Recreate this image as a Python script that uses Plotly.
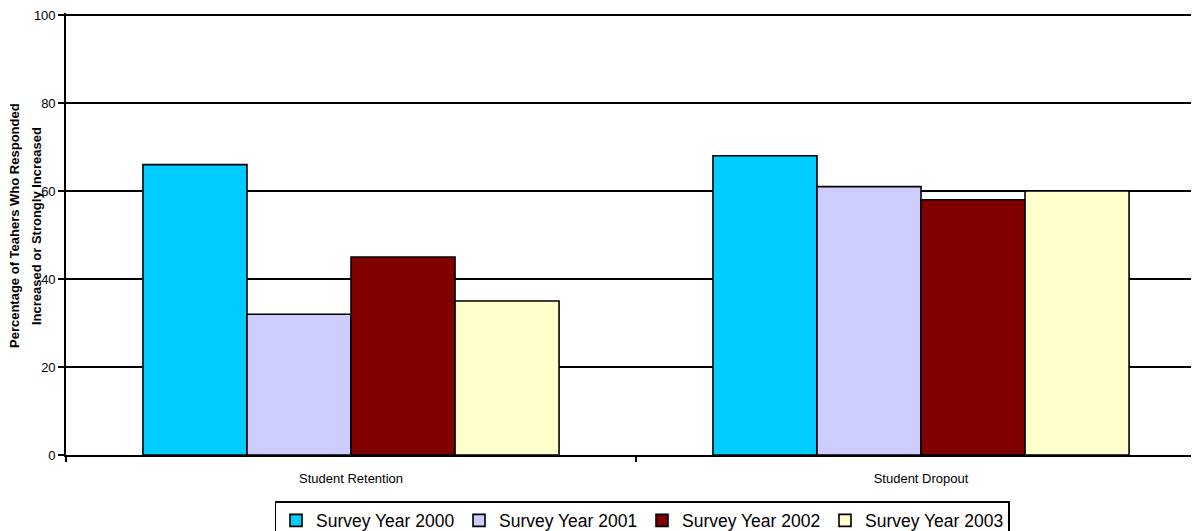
import plotly.graph_objects as go

categories = ["Student Retention", "Student Dropout"]
series_names = ["Survey Year 2000", "Survey Year 2001", "Survey Year 2002", "Survey Year 2003"]
values_2000 = [66, 68]
values_2001 = [32, 61]
values_2002 = [45, 58]
values_2003 = [35, 60]
colors = ["#00CCFF", "#CCCCFF", "#800000", "#FFFFCC"]
y_ticks = [0, 20, 40, 60, 80, 100]

FONT = "Liberation Sans, Arial, sans-serif"

# the page body adds an 8px offset; compensate so the plot lands where the reference has it
OFF = 8
PLOT_W = 1133
PX_PER_UNIT = 4.4          # 100 units over 440 px
EXTRA_TOP = 2              # a little headroom so the 100 gridline is drawn
PLOT_H = 440 + EXTRA_TOP
Y_MAX = 100 + EXTRA_TOP / PX_PER_UNIT

fig = go.Figure()
for name, vals, col in zip(series_names, [values_2000, values_2001, values_2002, values_2003], colors):
    fig.add_trace(go.Bar(
        x=categories, y=vals, name=name,
        marker=dict(color=col, line=dict(color="black", width=1.6)),
    ))

fig.update_layout(
    width=1199 - OFF, height=531 - OFF,
    margin=dict(l=66 - OFF, r=0, t=15 - OFF - EXTRA_TOP, b=531 - 455, autoexpand=False),
    paper_bgcolor="white", plot_bgcolor="white",
    barmode="group", bargap=0.27, bargroupgap=0,
    font=dict(family=FONT, size=13, color="black"),
    showlegend=True,
    legend=dict(
        orientation="h", x=(642 - 66) / PLOT_W, xanchor="center",
        y=(455 - 501) / PLOT_H, yanchor="top",
        font=dict(family=FONT, size=17.5, color="black"),
        bordercolor="black", borderwidth=1.5, bgcolor="white",
        itemwidth=30, entrywidth=138, entrywidthmode="pixels",
        traceorder="normal",
    ),
)

fig.update_xaxes(
    type="category", range=[-0.5, 1.4877], automargin=False,
    showline=True, linecolor="black", linewidth=1.6,
    ticks="outside", tickson="boundaries", ticklen=5, tickcolor="black", tickwidth=1.5,
    tickfont=dict(family=FONT, size=13, color="black"),
    ticklabelstandoff=11,
    showgrid=False, zeroline=False,
)
fig.update_yaxes(
    range=[0, Y_MAX], tickvals=y_ticks, automargin=False,
    ticklabeloverflow="allow",
    showline=True, linecolor="black", linewidth=1.6,
    ticks="outside", ticklen=6, tickcolor="black", tickwidth=1.5,
    tickfont=dict(family=FONT, size=13, color="black"),
    showgrid=True, gridcolor="black", gridwidth=1.6,
    zeroline=False,
)

title_lines = ["Percentage of Teahers Who Responded", "Increased or Strongly Increased"]
for i, line in enumerate(title_lines):
    fig.add_annotation(
        text="<b>" + line + "</b>", textangle=-90, showarrow=False,
        xref="paper", yref="paper",
        x=(15 + 22 * i - 66) / PLOT_W, y=(455 - 226) / PLOT_H,
        xanchor="center", yanchor="middle",
        font=dict(family=FONT, size=13, color="black"),
    )

fig.write_html("out.html")
